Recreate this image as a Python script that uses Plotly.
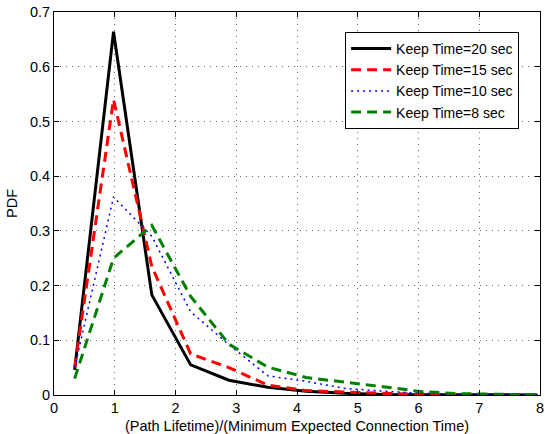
import plotly.graph_objects as go

# Normalised path lifetime (bin centres)
ratio = [0.34, 0.98, 1.61, 2.25, 2.88, 3.52, 4.15, 4.79, 5.42, 6.06, 6.69, 7.33, 7.96]

# PDF for each keep-time setting
pdf_20 = [0.046, 0.664, 0.183, 0.055, 0.027, 0.014, 0.007, 0.003, 0.001, 0.0005, 0.0003, 0.0002, 0.0001]
pdf_15 = [0.050, 0.540, 0.235, 0.075, 0.050, 0.018, 0.008, 0.005, 0.003, 0.0012, 0.0006, 0.0003, 0.0002]
pdf_10 = [0.050, 0.362, 0.290, 0.152, 0.092, 0.035, 0.025, 0.012, 0.007, 0.003, 0.0015, 0.0008, 0.0004]
pdf_8 = [0.030, 0.250, 0.310, 0.180, 0.093, 0.051, 0.032, 0.024, 0.015, 0.006, 0.0025, 0.0012, 0.0008]

series_names = ["Keep Time=20 sec", "Keep Time=15 sec", "Keep Time=10 sec", "Keep Time=8 sec"]

x_ticks = [0, 1, 2, 3, 4, 5, 6, 7, 8]
y_ticks = [0, 0.1, 0.2, 0.3, 0.4, 0.5, 0.6, 0.7]
y_tick_text = ["0", "0.1", "0.2", "0.3", "0.4", "0.5", "0.6", "0.7"]

styles = [
    dict(color="#000000", width=3, dash="solid"),
    dict(color="#FF0000", width=3, dash="10px,6px"),
    dict(color="#0000FF", width=1.5, dash="2px,4px"),
    dict(color="#008000", width=3, dash="10px,6px"),
]

FONT = "Liberation Sans, Arial, Helvetica, sans-serif"

fig = go.Figure()
for name, ys, st in zip(series_names, [pdf_20, pdf_15, pdf_10, pdf_8], styles):
    fig.add_trace(go.Scatter(x=ratio, y=ys, mode="lines", name=name, line=st))

axis_common = dict(
    showline=True, linecolor="black", linewidth=1, mirror="ticks",
    ticks="inside", ticklen=5, tickcolor="black", tickwidth=1,
    showgrid=True, gridcolor="#666666", gridwidth=1, griddash="1px,5px",
    zeroline=False, tickfont=dict(size=14.5, color="black", family=FONT),
    ticklabeloverflow="allow", automargin=False,
)

fig.update_layout(
    width=546, height=434,
    margin=dict(l=54, r=6, t=12, b=39),
    paper_bgcolor="white", plot_bgcolor="white",
    font=dict(family=FONT, size=14.5, color="black"),
    xaxis=dict(range=[0, 8], tickvals=x_ticks,
               title=dict(text="(Path Lifetime)/(Minimum Expected Connection Time)",
                          font=dict(size=14.5), standoff=6),
               **axis_common),
    yaxis=dict(range=[0, 0.7], tickvals=y_ticks, ticktext=y_tick_text,
               title=dict(text="PDF", font=dict(size=14.5), standoff=8),
               **axis_common),
    legend=dict(x=0.957, y=0.948, xanchor="right", yanchor="top",
                bgcolor="white", bordercolor="black", borderwidth=1,
                font=dict(size=14, family=FONT), itemwidth=40,
                tracegroupgap=0),
    showlegend=True,
)

fig.write_html("out.html")
